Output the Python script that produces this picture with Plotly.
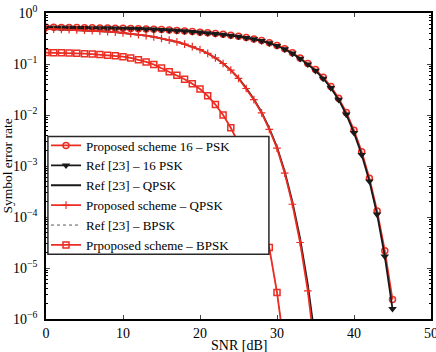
import plotly.graph_objects as go

# SNR grids (dB)
snr_16 = list(range(0, 46))
snr_q = list(range(0, 36))
snr_b = list(range(0, 32))

# log10(SER) values
log_ser_16psk_prop = [-0.280, -0.281, -0.282, -0.284, -0.286, -0.288, -0.290, -0.292, -0.294, -0.297,
                      -0.300, -0.303, -0.307, -0.312, -0.318, -0.325, -0.333, -0.342, -0.352, -0.363,
                      -0.375, -0.388, -0.402, -0.418, -0.437, -0.458, -0.481, -0.508, -0.540, -0.585,
                      -0.635, -0.700, -0.780, -0.880, -0.990, -1.110, -1.260, -1.440, -1.670, -1.950,
                      -2.300, -2.720, -3.240, -3.880, -4.660, -5.620]
log_ser_16psk_ref = [-0.285, -0.286, -0.287, -0.289, -0.291, -0.293, -0.295, -0.297, -0.299, -0.302,
                     -0.305, -0.308, -0.312, -0.317, -0.323, -0.330, -0.338, -0.347, -0.357, -0.368,
                     -0.380, -0.393, -0.407, -0.423, -0.442, -0.463, -0.487, -0.514, -0.547, -0.592,
                     -0.643, -0.710, -0.792, -0.895, -1.005, -1.130, -1.285, -1.470, -1.700, -1.990,
                     -2.350, -2.780, -3.300, -3.950, -4.770, -5.800]
log_ser_qpsk_prop = [-0.310, -0.315, -0.320, -0.326, -0.332, -0.338, -0.345, -0.355, -0.365, -0.375,
                     -0.390, -0.405, -0.425, -0.445, -0.470, -0.500, -0.530, -0.565, -0.610, -0.660,
                     -0.720, -0.790, -0.880, -0.990, -1.120, -1.280, -1.480, -1.700, -1.960, -2.280,
                     -2.650, -3.140, -3.750, -4.500, -5.450, -6.700]
log_ser_qpsk_ref = [-0.310, -0.315, -0.320, -0.326, -0.332, -0.338, -0.345, -0.355, -0.365, -0.375,
                    -0.390, -0.405, -0.425, -0.445, -0.470, -0.500, -0.530, -0.565, -0.610, -0.660,
                    -0.720, -0.790, -0.880, -0.990, -1.120, -1.275, -1.470, -1.690, -1.945, -2.260,
                    -2.630, -3.110, -3.700, -4.420, -5.320, -6.450]
log_ser_bpsk = [-0.775, -0.777, -0.780, -0.785, -0.790, -0.797, -0.805, -0.815, -0.827, -0.840,
                -0.857, -0.880, -0.915, -0.960, -1.010, -1.080, -1.150, -1.220, -1.300, -1.385,
                -1.490, -1.625, -1.795, -2.000, -2.250, -2.550, -2.920, -3.370, -3.920, -4.600,
                -5.480, -6.600]

ser_16_prop = [10 ** v for v in log_ser_16psk_prop]
ser_16_ref = [10 ** v for v in log_ser_16psk_ref]
ser_q_prop = [10 ** v for v in log_ser_qpsk_prop]
ser_q_ref = [10 ** v for v in log_ser_qpsk_ref]
ser_b = [10 ** v for v in log_ser_bpsk]

names = ["Proposed scheme 16 \u2013 PSK", "Ref [23] \u2013 16 PSK", "Ref [23] \u2013 QPSK",
         "Proposed scheme \u2013 QPSK", "Ref [23] \u2013 BPSK", "Prpoposed scheme \u2013 BPSK"]
x_title = "SNR [dB]"
y_title = "Symbol error rate"

RED = "rgb(236,45,35)"
BLACK = "rgb(25,25,25)"

fig = go.Figure()
fig.add_trace(go.Scatter(x=snr_16, y=ser_16_prop, name=names[0], mode="lines+markers",
                         line=dict(color=RED, width=1.8),
                         marker=dict(symbol="circle-open", size=6, color=RED, line=dict(width=1.5))))
fig.add_trace(go.Scatter(x=snr_16, y=ser_16_ref, name=names[1], mode="lines+markers",
                         line=dict(color=BLACK, width=1.8),
                         marker=dict(symbol="triangle-down", size=7.5, color=BLACK)))
fig.add_trace(go.Scatter(x=snr_q, y=ser_q_ref, name=names[2], mode="lines",
                         line=dict(color=BLACK, width=1.8)))
fig.add_trace(go.Scatter(x=snr_q, y=ser_q_prop, name=names[3], mode="lines+markers",
                         line=dict(color=RED, width=1.8),
                         marker=dict(symbol="cross-thin", size=5.5, color=RED, line=dict(width=1.2, color=RED))))
fig.add_trace(go.Scatter(x=snr_b, y=ser_b, name=names[4], mode="lines",
                         line=dict(color="rgb(90,90,90)", width=1, dash="dot")))
fig.add_trace(go.Scatter(x=snr_b, y=ser_b, name=names[5], mode="lines+markers",
                         line=dict(color=RED, width=1.8),
                         marker=dict(symbol="square-open", size=6, color=RED, line=dict(width=1.5))))

ytickvals = [1e-6, 1e-5, 1e-4, 1e-3, 1e-2, 1e-1, 1]
yticktext = ["10<sup>\u22126</sup>", "10<sup>\u22125</sup>", "10<sup>\u22124</sup>",
             "10<sup>\u22123</sup>", "10<sup>\u22122</sup>", "10<sup>\u22121</sup>", "10<sup>0</sup>"]
minor_vals = [m * 10.0 ** e for e in range(-6, 0) for m in range(2, 10)]

FONT = "Liberation Serif"
fig.update_layout(
    width=436, height=352,
    margin=dict(l=46, r=5, t=12.5, b=32.5),
    paper_bgcolor="white", plot_bgcolor="white",
    font=dict(family=FONT, size=14, color="black"),
    showlegend=True,
    legend=dict(x=0.0, y=0.616, xanchor="left", yanchor="top",
                bgcolor="rgba(0,0,0,0)", borderwidth=0,
                font=dict(family=FONT, size=13), tracegroupgap=0,
                itemwidth=30),
    shapes=[dict(type="rect", xref="paper", yref="paper", x0=0.005, x1=0.579, y0=0.212, y1=0.596,
                 fillcolor="white", line=dict(color="rgb(40,40,40)", width=1.5), layer="above")],
    annotations=[dict(text=x_title, xref="paper", yref="paper", x=0.5, y=-0.0863,
                      xanchor="center", yanchor="middle", showarrow=False,
                      font=dict(family=FONT, size=14, color="black"))],
    xaxis=dict(range=[0, 50], tickvals=[0, 10, 20, 30, 40, 50], ticks="inside", ticklen=4,
               showline=True, linecolor="black", linewidth=1.5, mirror="ticks",
               showgrid=False, zeroline=False, tickfont=dict(size=14), ticklabelstandoff=0,
               ticklabeloverflow="allow", automargin=False),
    yaxis=dict(type="log", range=[-6, 0], tickvals=ytickvals, ticktext=yticktext,
               ticks="inside", ticklen=4, tickfont=dict(size=14), ticklabelstandoff=4,
               ticklabeloverflow="allow",
               showline=True, linecolor="black", linewidth=1.5, mirror="ticks",
               showgrid=False, zeroline=False, automargin=False,
               minor=dict(tickvals=minor_vals, ticks="inside", ticklen=2, tickcolor="black", showgrid=False),
               title=dict(text=y_title, standoff=2, font=dict(size=13.5))),
)

fig.write_html("out.html")
